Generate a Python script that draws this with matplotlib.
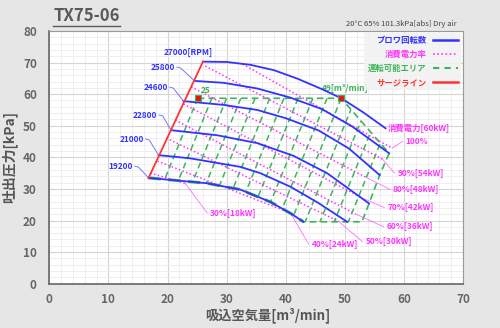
import matplotlib
matplotlib.use('Agg')
import matplotlib.pyplot as plt
from matplotlib.lines import Line2D
from matplotlib.patches import Polygon
from matplotlib.ticker import MultipleLocator

plt.rcParams['font.family'] = ['Noto Sans CJK JP', 'DejaVu Sans']

# blower speed curves: suction flow [m3/min] vs discharge pressure [kPa]
q_27000 = [26.0, 30.0, 34.0, 38.0, 42.0, 46.0, 49.4, 53.0, 56.9]
p_27000 = [70.3, 70.2, 69.3, 67.6, 64.9, 61.7, 58.7, 54.4, 49.2]
q_25800 = [24.6, 29.5, 35.2, 40.8, 46.1, 51.3, 57.5]
p_25800 = [64.2, 63.6, 61.8, 58.9, 55.3, 49.7, 41.3]
q_24600 = [22.7, 29.5, 35.2, 40.0, 45.6, 50.7, 55.9]
p_24600 = [57.8, 56.6, 55.0, 52.4, 48.5, 42.8, 34.4]
q_22800 = [20.6, 28.4, 35.2, 41.3, 47.0, 54.1]
p_22800 = [48.6, 47.0, 44.5, 40.5, 35.0, 25.4]
q_21000 = [18.5, 23.8, 32.3, 35.7, 40.8, 45.5, 50.4]
p_21000 = [40.7, 39.7, 37.0, 35.0, 30.7, 25.6, 19.6]
q_19200 = [16.8, 23.8, 26.7, 32.3, 37.4, 40.8, 43.0]
p_19200 = [33.5, 32.3, 31.8, 29.8, 25.9, 22.3, 19.6]
rpm_names = ['27000[RPM]', '25800', '24600', '22800', '21000', '19200']
rpm_label_q = [23.5, 21.3, 20.1, 18.3, 16.0, 14.2]
rpm_label_p = [73.3, 68.6, 62.2, 53.4, 45.8, 37.2]

# power ratio lines
pw_names = ['100%', '90%[54kW]', '80%[48kW]', '70%[42kW]', '60%[36kW]',
            '50%[30kW]', '40%[24kW]', '30%[18kW]']
pw_q0 = [32.7, 26.4, 24.0, 22.7, 21.3, 19.8, 18.3, 17.1]
pw_p0 = [69.5, 68.9, 62.3, 56.9, 51.8, 46.1, 38.8, 35.0]
pw_q1 = [58.0, 56.4, 53.9, 53.0, 51.8, 48.9, 40.8, 23.0]
pw_p1 = [42.9, 39.4, 33.4, 27.1, 22.1, 19.8, 22.4, 31.8]
pw_label_q = [60.3, 58.9, 58.1, 57.2, 57.1, 53.5, 44.4, 27.2]
pw_label_p = [45.1, 35.0, 29.9, 24.1, 18.0, 13.3, 12.5, 22.4]

# surge line
surge_q = [16.8, 26.0]
surge_p = [33.5, 70.3]

# operating area
area_q = [25.1, 49.4, 57.5, 55.9, 54.1, 52.9, 43.0]
area_p = [58.7, 58.7, 41.3, 34.4, 25.4, 19.6, 19.6]
hatch_q_top = [25.1, 27.5, 30.0, 32.4, 34.8, 37.3, 39.7, 42.1, 44.6, 47.0,
               49.4, 51.8, 54.3, 56.7, 59.1, 61.6]
hatch_slope = 4.6

blue = '#3333ff'
pink = '#ff33ff'
green = '#3cb55a'
red = '#ff3333'

fig = plt.figure(figsize=(5, 3.28), dpi=100, facecolor='#e6e6e6')
ax = fig.add_axes([0.0986, 0.135, 0.8274, 0.7705])
ax.set_facecolor('white')

# operating area hatch, clipped to the area outline
outline = list(zip(area_q, area_p)) + [(q, p) for q, p in zip(q_19200[::-1], p_19200[::-1]) if q < 43.0]
clip = Polygon(outline, closed=True, transform=ax.transData, facecolor='none', edgecolor='none')
ax.add_patch(clip)
for q0 in hatch_q_top:
    top = area_p[0]
    line, = ax.plot([q0, q0 - (top - 15) / hatch_slope], [top, 15], color=green,
                    lw=1.1, ls=(0, (4, 2.5)), zorder=2)
    line.set_clip_path(clip)
ax.plot(area_q, area_p, color=green, lw=1.2, ls=(0, (4, 2.5)), zorder=2)
ax.plot(q_19200, p_19200, color=green, lw=2.2, ls=(0, (4, 2.5)), zorder=2)

# power lines with leaders
for i in range(len(pw_names)):
    ax.plot([pw_q0[i], pw_q1[i]], [pw_p0[i], pw_p1[i]], color=pink, lw=1.1, ls=(0, (1, 1.5)), zorder=3)
    ax.plot([pw_q1[i], pw_label_q[i] - 0.5], [pw_p1[i], pw_label_p[i]], color=pink, lw=0.6, alpha=0.7, zorder=3)
    ax.text(pw_label_q[i], pw_label_p[i], pw_names[i], color=pink, fontsize=6, fontweight='bold',
            ha='left', va='center', zorder=5)
ax.text(57.2, 49.3, '消費電力[60kW]', color=pink, fontsize=6, fontweight='bold', ha='left', va='center')

# speed curves
curves = [(q_27000, p_27000), (q_25800, p_25800), (q_24600, p_24600),
          (q_22800, p_22800), (q_21000, p_21000), (q_19200, p_19200)]
for i, (qs, ps) in enumerate(curves):
    ax.plot(qs, ps, color=blue, lw=1.3, zorder=4, solid_joinstyle='round')
    if i == 0:
        ax.text(rpm_label_q[i], rpm_label_p[i], rpm_names[i], color=blue, fontsize=6,
                fontweight='bold', ha='center', va='center')
    else:
        ax.text(rpm_label_q[i], rpm_label_p[i], rpm_names[i], color=blue, fontsize=6,
                fontweight='bold', ha='right', va='center')
        ax.plot([rpm_label_q[i] + 0.3, rpm_label_q[i] + 0.9, qs[0]],
                [rpm_label_p[i], rpm_label_p[i] - 0.3, ps[0]], color='#7777ff', lw=0.7, zorder=4)

ax.plot(surge_q, surge_p, color=red, lw=1.3, zorder=5)

# area corner markers
ax.plot([area_q[0], area_q[1]], [area_p[0], area_p[1]], 's', ms=4, mfc='#ee1111', mec=green, mew=0.8, zorder=6)
ax.text(25.6, 61.2, '25', color=green, fontsize=6, fontweight='bold', ha='left', va='center')
ax.text(50.0, 61.9, '49[m³/min]', color=green, fontsize=6, fontweight='bold', ha='center', va='center')

ax.set_xlim(0, 70)
ax.set_ylim(0, 80)
ax.xaxis.set_major_locator(MultipleLocator(10))
ax.yaxis.set_major_locator(MultipleLocator(10))
ax.xaxis.set_minor_locator(MultipleLocator(2))
ax.yaxis.set_minor_locator(MultipleLocator(2))
ax.grid(which='major', color='#d4d4d4', lw=0.8)
ax.grid(which='minor', color='#ececec', lw=0.6)
ax.set_axisbelow(True)
ax.tick_params(which='both', length=0)
ax.tick_params(axis='x', pad=7, labelsize=8.5, labelcolor='#666666')
ax.tick_params(axis='y', pad=9, labelsize=8.5, labelcolor='#666666')
for lab in ax.get_xticklabels() + ax.get_yticklabels():
    lab.set_fontweight('bold')
for s in ax.spines.values():
    s.set_color('#999999')
    s.set_linewidth(0.8)
ax.spines['left'].set_color('#666666')
ax.spines['bottom'].set_color('#666666')
ax.spines['left'].set_linewidth(1.2)
ax.spines['bottom'].set_linewidth(1.2)

ax.set_xlabel('吸込空気量[m³/min]', fontsize=9.5, fontweight='bold', color='#555555')
ax.xaxis.set_label_coords(0.527, -0.092)
ax.set_ylabel('吐出圧力[kPa]', fontsize=10, fontweight='bold', color='#555555', labelpad=4)

handles = [Line2D([], [], color=blue, lw=1.8),
           Line2D([], [], color=pink, lw=1.2, ls=(0, (1, 1.5))),
           Line2D([], [], color=green, lw=1.5, ls=(0, (3, 2.5))),
           Line2D([], [], color=red, lw=1.8)]
leg = ax.legend(handles, ['ブロワ回転数', '消費電力率', '運転可能エリア', 'サージライン'],
                loc='upper right', markerfirst=False, fontsize=6, handlelength=3.0,
                borderaxespad=0.2, facecolor='#f2f2f2', edgecolor='none', framealpha=0.9,
                labelspacing=0.6, fancybox=False)
for t, c in zip(leg.get_texts(), [blue, pink, green, red]):
    t.set_color(c)
    t.set_fontweight('bold')

fig.text(0.106, 0.935, 'TX75-06', fontsize=12, fontweight='bold', color='#595959', ha='left', va='baseline')
fig.add_artist(Line2D([0.106, 0.24], [0.922, 0.922], color='#595959', lw=1.0))
fig.text(0.914, 0.92, '20°C 65% 101.3kPa[abs] Dry air', fontsize=5.5, color='#444444', ha='right', va='baseline')

fig.savefig('out.png', dpi=100, facecolor=fig.get_facecolor())
